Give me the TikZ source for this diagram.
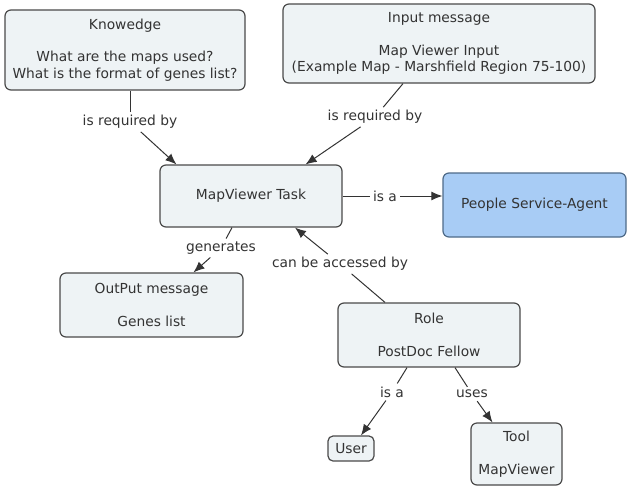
\documentclass[tikz,border=0pt]{standalone}
\usepackage{fontspec}
\setmainfont{DejaVu Sans}
\usepackage{tikz}
\usetikzlibrary{arrows.meta}

\definecolor{boxfill}{HTML}{EEF3F5}
\definecolor{boxline}{HTML}{4A4A4A}
\definecolor{agentfill}{HTML}{A8CCF5}
\definecolor{agentline}{HTML}{4E6A88}
\definecolor{ink}{HTML}{333333}

\tikzset{
  concept/.style={draw=boxline, fill=boxfill, line width=1.2pt, rounded corners=6pt,
    align=center, text=ink, font=\fontsize{13.8}{16.5}\selectfont, inner sep=0pt},
  linkword/.style={text=ink, font=\fontsize{13.8}{16.5}\selectfont, inner sep=3pt},
  conn/.style={draw=ink, line width=1pt},
}

\begin{document}
\begin{tikzpicture}[x=1pt,y=-1pt,>={Latex[length=11pt,width=9pt]}]
\useasboundingbox (0,0) rectangle (632,491);
\node[concept,minimum width=240pt,minimum height=80pt] (know) at (125,50)
  {Knowedge\\[16pt]What are the maps used?\\What is the format of genes list?};
\node[concept,minimum width=312pt,minimum height=79pt] (input) at (439,43.5)
  {Input message\\[16pt]Map Viewer Input\\(Example Map - Marshfield Region 75-100)};
\node[concept,minimum width=182pt,minimum height=62pt] (task) at (251,196) {MapViewer Task};
\node[concept,fill=agentfill,draw=agentline,minimum width=183pt,minimum height=64pt] (agent) at (534.5,205) {People Service-Agent};
\node[concept,minimum width=183pt,minimum height=64pt] (output) at (151.5,305) {OutPut message\\[16pt]Genes list};
\node[concept,minimum width=182pt,minimum height=64pt] (role) at (429,335) {Role\\[16pt]PostDoc Fellow};
\node[concept,minimum width=46pt,minimum height=25pt,rounded corners=5pt] (user) at (351,448.5) {User};
\node[concept,minimum width=91pt,minimum height=62pt] (tool) at (516.5,454) {Tool\\[17pt]MapViewer};

% linking phrases
\node[linkword] (req1) at (130,122) {is required by};
\node[linkword] (req2) at (375,117) {is required by};
\node[linkword] (isa1) at (385,196) {is a};
\node[linkword] (gen) at (221,248) {generates};
\node[linkword] (acc) at (340,264) {can be accessed by};
\node[linkword] (isa2) at (392,392) {is a};
\node[linkword] (uses) at (472,394) {uses};

\draw[conn] (req1) -- (req1 |- know.south);
\draw[conn,->] (req1) -- ([xshift=17pt]task.north west);
\draw[conn] (req2) -- ([xshift=-36pt]input.south);
\draw[conn,->] (req2) -- ([xshift=-37pt]task.north east);
\draw[conn] (task) -- (isa1);
\draw[conn,->] (isa1) -- (isa1 -| agent.west);
\draw[conn] (gen) -- ([xshift=-19pt]task.south);
\draw[conn,->] (gen) -- ([xshift=42pt]output.north);
\draw[conn] (acc) -- ([xshift=-44pt]role.north);
\draw[conn,->] (acc) -- ([xshift=44pt]task.south);
\draw[conn] (isa2) -- ([xshift=-22pt]role.south);
\draw[conn,->] (isa2) -- ([xshift=10pt]user.north);
\draw[conn] (uses) -- ([xshift=26pt]role.south);
\draw[conn,->] (uses) -- ([xshift=-24pt]tool.north);
\end{tikzpicture}
\end{document}
